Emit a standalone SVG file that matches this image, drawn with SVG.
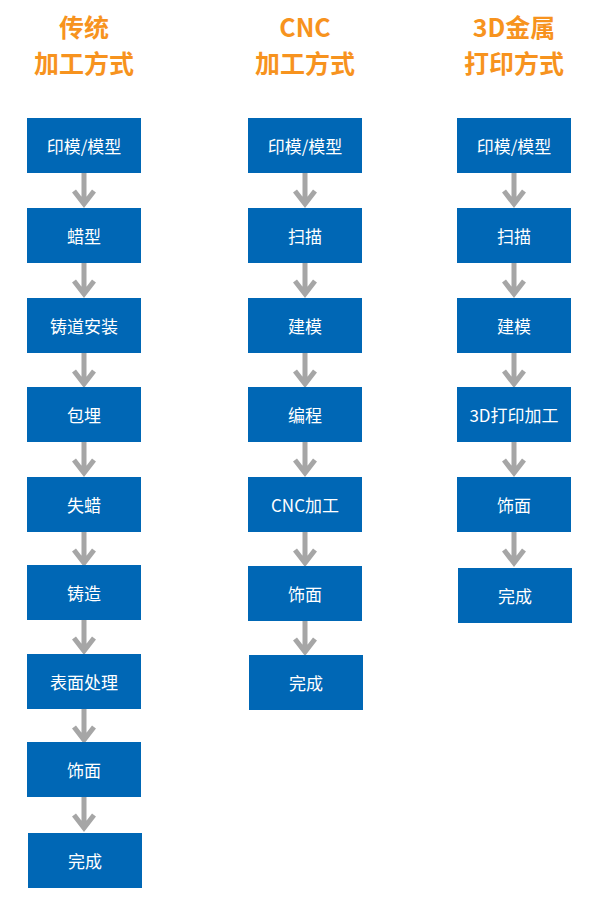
<svg xmlns="http://www.w3.org/2000/svg" width="600" height="900" viewBox="0 0 600 900">
<style>
.t{font-family:"Noto Sans CJK SC",sans-serif;font-weight:bold;font-size:25px;fill:#f7931e;text-anchor:middle}
.b{fill:#0067b5}
.l{font-family:"Noto Sans CJK SC",sans-serif;font-size:17px;fill:#fff;text-anchor:middle;dominant-baseline:central}
.a{stroke:#a6a6a6;stroke-width:5;fill:none}
</style>
<defs>
<g id="arr"><path class="a" d="M0,0V30M-10,18L0,31L10,18"/></g>
</defs>
<rect width="600" height="900" fill="#fff"/>
<g id="titles">
<text class="t" x="84" y="37">传统</text><text class="t" x="84" y="73">加工方式</text>
<text class="t" x="305" y="37">CNC</text><text class="t" x="305" y="73">加工方式</text>
<text class="t" x="514" y="37">3D金属</text><text class="t" x="514" y="73">打印方式</text>
</g>
<g id="connectors">
<use href="#arr" x="84" y="173"/><use href="#arr" x="84" y="263"/><use href="#arr" x="84" y="353"/><use href="#arr" x="84" y="442"/><use href="#arr" x="84" y="532"/><use href="#arr" x="84" y="620"/><use href="#arr" x="84" y="709"/><use href="#arr" x="84" y="797"/>
<use href="#arr" x="305" y="173"/><use href="#arr" x="305" y="263"/><use href="#arr" x="305" y="353"/><use href="#arr" x="305" y="442"/><use href="#arr" x="305" y="532"/><use href="#arr" x="305" y="621"/>
<use href="#arr" x="514" y="173"/><use href="#arr" x="514" y="263"/><use href="#arr" x="514" y="353"/><use href="#arr" x="514" y="442"/><use href="#arr" x="514" y="532"/>
</g>
<g id="n1a"><rect class="b" x="27" y="118" width="114" height="55"/><text class="l" x="84" y="145">印模/模型</text></g>
<g id="n1b"><rect class="b" x="27" y="208" width="114" height="55"/><text class="l" x="84" y="235">蜡型</text></g>
<g id="n1c"><rect class="b" x="27" y="298" width="114" height="55"/><text class="l" x="84" y="325">铸道安装</text></g>
<g id="n1d"><rect class="b" x="27" y="387" width="114" height="55"/><text class="l" x="84" y="414">包埋</text></g>
<g id="n1e"><rect class="b" x="27" y="477" width="114" height="55"/><text class="l" x="84" y="504">失蜡</text></g>
<g id="n1f"><rect class="b" x="27" y="565" width="114" height="55"/><text class="l" x="84" y="592">铸造</text></g>
<g id="n1g"><rect class="b" x="27" y="654" width="114" height="55"/><text class="l" x="84" y="681">表面处理</text></g>
<g id="n1h"><rect class="b" x="27" y="742" width="114" height="55"/><text class="l" x="84" y="769">饰面</text></g>
<g id="n1i"><rect class="b" x="28" y="833" width="114" height="55"/><text class="l" x="85" y="860">完成</text></g>
<g id="n2a"><rect class="b" x="248" y="118" width="114" height="55"/><text class="l" x="305" y="145">印模/模型</text></g>
<g id="n2b"><rect class="b" x="248" y="208" width="114" height="55"/><text class="l" x="305" y="235">扫描</text></g>
<g id="n2c"><rect class="b" x="248" y="298" width="114" height="55"/><text class="l" x="305" y="325">建模</text></g>
<g id="n2d"><rect class="b" x="248" y="387" width="114" height="55"/><text class="l" x="305" y="414">编程</text></g>
<g id="n2e"><rect class="b" x="248" y="477" width="114" height="55"/><text class="l" x="305" y="504">CNC加工</text></g>
<g id="n2f"><rect class="b" x="248" y="566" width="114" height="55"/><text class="l" x="305" y="593">饰面</text></g>
<g id="n2g"><rect class="b" x="249" y="655" width="114" height="55"/><text class="l" x="306" y="682">完成</text></g>
<g id="n3a"><rect class="b" x="457" y="118" width="114" height="55"/><text class="l" x="514" y="145">印模/模型</text></g>
<g id="n3b"><rect class="b" x="457" y="208" width="114" height="55"/><text class="l" x="514" y="235">扫描</text></g>
<g id="n3c"><rect class="b" x="457" y="298" width="114" height="55"/><text class="l" x="514" y="325">建模</text></g>
<g id="n3d"><rect class="b" x="457" y="387" width="114" height="55"/><text class="l" x="514" y="414">3D打印加工</text></g>
<g id="n3e"><rect class="b" x="457" y="477" width="114" height="55"/><text class="l" x="514" y="504">饰面</text></g>
<g id="n3f"><rect class="b" x="458" y="568" width="114" height="55"/><text class="l" x="515" y="595">完成</text></g>
</svg>
